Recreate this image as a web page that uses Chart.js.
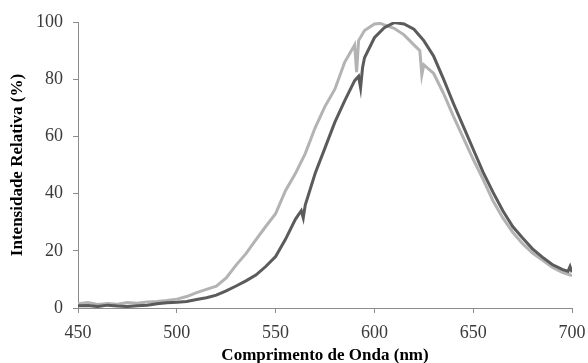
<!DOCTYPE html>
<html>
<head>
<meta charset="utf-8">
<script src="https://cdn.jsdelivr.net/npm/chart.js@4"></script>
<style>
  body { margin: 0; background: #fff; }
  #wrap { width: 588px; height: 363px; position: relative; }
</style>
</head>
<body>
<div id="wrap"><canvas id="spectrum"></canvas></div>
<script>
// emission spectra
const darkWavelengths = [450, 455, 460, 465, 470, 475, 480, 485, 490, 495, 500, 505, 510, 515, 520, 525, 530, 535, 540, 545,
    550, 555, 560, 563, 564, 565, 570, 575, 580, 585, 590, 592, 593, 594, 595, 600, 605, 610, 615, 620, 625, 630, 635, 640, 645,
    650, 655, 660, 665, 670, 675, 680, 685, 690, 695, 698, 699, 700];
const darkIntensity = [0.8, 0.9, 0.5, 1.0, 0.7, 0.5, 0.8, 1.0, 1.5, 1.8, 2.0, 2.3, 3.0, 3.6, 4.5, 6.0, 7.7, 9.5, 11.5, 14.5,
    18.0, 24.0, 31.0, 34.0, 31.5, 36.0, 47.0, 56.0, 65.0, 72.5, 79.5, 81.0, 77.0, 84.0, 87.5, 94.5, 98.0, 99.8, 99.3, 97.5, 93.5,
    88.0, 80.0, 71.5, 63.5, 55.5, 47.5, 40.5, 34.0, 28.5, 24.5, 20.7, 17.8, 15.2, 13.5, 12.8, 14.5, 12.5];

const lightWavelengths = [450, 455, 460, 465, 470, 475, 480, 485, 490, 495, 500, 505, 510, 515, 520, 525, 530, 535, 540, 545,
    550, 555, 560, 565, 570, 575, 580, 585, 590, 591, 592, 595, 600, 603, 605, 610, 615, 620, 623, 624, 625, 630, 635, 640, 645,
    650, 655, 660, 665, 670, 675, 680, 685, 690, 695, 700];
const lightIntensity = [1.5, 1.9, 1.2, 1.6, 1.3, 1.9, 1.7, 2.1, 2.3, 2.6, 3.1, 4.0, 5.4, 6.5, 7.6, 10.5, 15.0, 19.0, 23.8, 28.5,
    33.0, 41.0, 47.0, 54.0, 63.0, 70.5, 76.5, 86.0, 92.0, 82.5, 93.5, 97.0, 99.3, 99.5, 99.0, 97.8, 95.5, 92.0, 90.0, 81.5, 85.0,
    82.0, 75.0, 67.0, 59.5, 52.0, 45.0, 37.5, 31.5, 26.5, 22.5, 19.2, 16.8, 14.3, 12.5, 11.3];

const xTicks = [450, 500, 550, 600, 650, 700];
const yTicks = [0, 20, 40, 60, 80, 100];

const toPoints = (xs, ys) => xs.map((x, i) => ({ x: x, y: ys[i] }));

const serif = "'Liberation Serif', 'Times New Roman', serif";
const axisGrey = '#8c8c8c';

new Chart(document.getElementById('spectrum'), {
    type: 'line',
    data: {
        datasets: [
            {
                data: toPoints(darkWavelengths, darkIntensity),
                borderColor: '#5b5b5b',
                borderWidth: 3,
                pointRadius: 0,
                tension: 0
            },
            {
                data: toPoints(lightWavelengths, lightIntensity),
                borderColor: '#b3b3b3',
                borderWidth: 3,
                pointRadius: 0,
                tension: 0
            }
        ]
    },
    options: {
        responsive: true,
        maintainAspectRatio: false,
        animation: false,
        layout: { padding: { top: 22, right: 16, left: 0, bottom: 0 } },
        plugins: {
            legend: { display: false },
            tooltip: { enabled: false }
        },
        scales: {
            x: {
                type: 'linear',
                min: xTicks[0],
                max: xTicks[xTicks.length - 1],
                afterBuildTicks: (scale) => { scale.ticks = xTicks.map(v => ({ value: v })); },
                afterFit: (scale) => {
                    scale.height = 55;
                    scale.paddingLeft = 0;
                    scale.paddingRight = 0;
                },
                grid: { drawOnChartArea: false, drawTicks: true, tickLength: 5, color: axisGrey },
                border: { color: axisGrey },
                ticks: { color: '#3a3a3a', padding: 9, maxRotation: 0, font: { family: serif, size: 18 } },
                title: {
                    display: true,
                    text: 'Comprimento de Onda (nm)',
                    color: '#000',
                    padding: { top: 0, bottom: 0 },
                    font: { family: serif, size: 17, weight: 'bold', lineHeight: 0.9 }
                }
            },
            y: {
                min: yTicks[0],
                max: yTicks[yTicks.length - 1],
                afterBuildTicks: (scale) => { scale.ticks = yTicks.map(v => ({ value: v })); },
                afterFit: (scale) => { scale.width = 78; },
                grid: { drawOnChartArea: false, drawTicks: true, tickLength: 5, color: axisGrey },
                border: { color: axisGrey },
                ticks: { color: '#3a3a3a', padding: 10, font: { family: serif, size: 18 } },
                title: {
                    display: true,
                    text: 'Intensidade Relativa (%)',
                    color: '#000',
                    padding: { top: 9, bottom: 0 },
                    font: { family: serif, size: 17, weight: 'bold', lineHeight: 1 }
                }
            }
        }
    }
});
</script>
</body>
</html>
